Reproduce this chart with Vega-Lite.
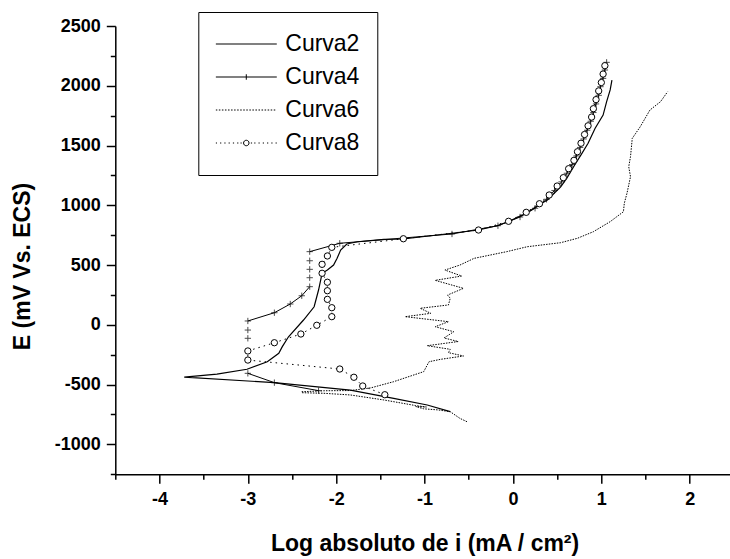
{
  "$schema": "https://vega.github.io/schema/vega-lite/v6.json",
  "width": 618.6,
  "height": 448.2,
  "autosize": {"type": "none"},
  "padding": {"left": 115.3, "top": 26, "right": 0, "bottom": 84.8},
  "background": "white",
  "config": {"view": {"stroke": null}, "font": "Liberation Sans"},
  "data": {"values": [
    {"s":"Curva2","o":1,"g":0,"x":-0.71,"y":-727},
    {"s":"Curva2","o":2,"g":0,"x":-0.97,"y":-671},
    {"s":"Curva2","o":3,"g":0,"x":-1.35,"y":-615},
    {"s":"Curva2","o":4,"g":0,"x":-1.84,"y":-546},
    {"s":"Curva2","o":5,"g":0,"x":-2.70,"y":-484},
    {"s":"Curva2","o":6,"g":0,"x":-3.72,"y":-437},
    {"s":"Curva2","o":7,"g":0,"x":-3.35,"y":-412},
    {"s":"Curva2","o":8,"g":0,"x":-3.01,"y":-372},
    {"s":"Curva2","o":9,"g":0,"x":-2.78,"y":-309},
    {"s":"Curva2","o":10,"g":0,"x":-2.65,"y":-238},
    {"s":"Curva2","o":11,"g":0,"x":-2.61,"y":-183},
    {"s":"Curva2","o":12,"g":0,"x":-2.54,"y":-100},
    {"s":"Curva2","o":13,"g":0,"x":-2.37,"y":40},
    {"s":"Curva2","o":14,"g":0,"x":-2.25,"y":151},
    {"s":"Curva2","o":15,"g":0,"x":-2.20,"y":291},
    {"s":"Curva2","o":16,"g":0,"x":-2.16,"y":431},
    {"s":"Curva2","o":17,"g":0,"x":-2.10,"y":458},
    {"s":"Curva2","o":18,"g":0,"x":-2.03,"y":500},
    {"s":"Curva2","o":19,"g":0,"x":-1.99,"y":556},
    {"s":"Curva2","o":20,"g":0,"x":-1.95,"y":626},
    {"s":"Curva2","o":21,"g":0,"x":-1.88,"y":676},
    {"s":"Curva2","o":22,"g":0,"x":-1.76,"y":695},
    {"s":"Curva2","o":23,"g":0,"x":-1.46,"y":715},
    {"s":"Curva2","o":24,"g":0,"x":-1.24,"y":718},
    {"s":"Curva2","o":25,"g":0,"x":-0.69,"y":766},
    {"s":"Curva2","o":26,"g":0,"x":-0.39,"y":793},
    {"s":"Curva2","o":27,"g":0,"x":-0.18,"y":829},
    {"s":"Curva2","o":28,"g":0,"x":-0.05,"y":863},
    {"s":"Curva2","o":29,"g":0,"x":0.16,"y":938},
    {"s":"Curva2","o":30,"g":0,"x":0.31,"y":1011},
    {"s":"Curva2","o":31,"g":0,"x":0.39,"y":1044},
    {"s":"Curva2","o":32,"g":0,"x":0.54,"y":1155},
    {"s":"Curva2","o":33,"g":0,"x":0.61,"y":1227},
    {"s":"Curva2","o":34,"g":0,"x":0.70,"y":1339},
    {"s":"Curva2","o":35,"g":0,"x":0.77,"y":1422},
    {"s":"Curva2","o":36,"g":0,"x":0.85,"y":1519},
    {"s":"Curva2","o":37,"g":0,"x":0.93,"y":1644},
    {"s":"Curva2","o":38,"g":0,"x":1.02,"y":1755},
    {"s":"Curva2","o":39,"g":0,"x":1.06,"y":1867},
    {"s":"Curva2","o":40,"g":0,"x":1.10,"y":1965},
    {"s":"Curva2","o":41,"g":0,"x":1.12,"y":2048},

    {"s":"Curva4","o":1,"g":1,"x":-2.20,"y":-551},
    {"s":"Curva4","o":2,"g":1,"x":-2.70,"y":-484},
    {"s":"Curva4","o":3,"g":1,"x":-3.00,"y":-406},
    {"s":"Curva4","o":4,"g":2,"x":-3.00,"y":-113},
    {"s":"Curva4","o":5,"g":3,"x":-3.00,"y":-44},
    {"s":"Curva4","o":6,"g":4,"x":-3.00,"y":32},
    {"s":"Curva4","o":7,"g":4,"x":-2.70,"y":101},
    {"s":"Curva4","o":8,"g":4,"x":-2.52,"y":174},
    {"s":"Curva4","o":9,"g":4,"x":-2.39,"y":243},
    {"s":"Curva4","o":10,"g":4,"x":-2.30,"y":319},
    {"s":"Curva4","o":11,"g":5,"x":-2.30,"y":394},
    {"s":"Curva4","o":12,"g":6,"x":-2.30,"y":464},
    {"s":"Curva4","o":13,"g":7,"x":-2.30,"y":536},
    {"s":"Curva4","o":14,"g":8,"x":-2.30,"y":612},
    {"s":"Curva4","o":15,"g":8,"x":-1.96,"y":682},
    {"s":"Curva4","o":16,"g":8,"x":-0.69,"y":760},
    {"s":"Curva4","o":17,"g":8,"x":-0.17,"y":829},
    {"s":"Curva4","o":18,"g":8,"x":0.08,"y":902},
    {"s":"Curva4","o":19,"g":8,"x":0.25,"y":975},
    {"s":"Curva4","o":20,"g":8,"x":0.38,"y":1050},
    {"s":"Curva4","o":21,"g":8,"x":0.47,"y":1124},
    {"s":"Curva4","o":22,"g":8,"x":0.55,"y":1196},
    {"s":"Curva4","o":23,"g":8,"x":0.61,"y":1268},
    {"s":"Curva4","o":24,"g":8,"x":0.67,"y":1341},
    {"s":"Curva4","o":25,"g":8,"x":0.72,"y":1413},
    {"s":"Curva4","o":26,"g":8,"x":0.76,"y":1484},
    {"s":"Curva4","o":27,"g":8,"x":0.80,"y":1555},
    {"s":"Curva4","o":28,"g":8,"x":0.84,"y":1628},
    {"s":"Curva4","o":29,"g":8,"x":0.88,"y":1703},
    {"s":"Curva4","o":30,"g":8,"x":0.91,"y":1776},
    {"s":"Curva4","o":31,"g":8,"x":0.94,"y":1848},
    {"s":"Curva4","o":32,"g":8,"x":0.97,"y":1920},
    {"s":"Curva4","o":33,"g":8,"x":0.99,"y":1992},
    {"s":"Curva4","o":34,"g":8,"x":1.02,"y":2062},
    {"s":"Curva4","o":35,"g":8,"x":1.04,"y":2132},
    {"s":"Curva4","o":36,"g":8,"x":1.06,"y":2196},

    {"s":"Curva6","o":1,"g":0,"x":-0.52,"y":-811},
    {"s":"Curva6","o":2,"g":0,"x":-0.60,"y":-783},
    {"s":"Curva6","o":3,"g":0,"x":-0.71,"y":-727},
    {"s":"Curva6","o":4,"g":0,"x":-0.85,"y":-712},
    {"s":"Curva6","o":5,"g":0,"x":-1.01,"y":-703},
    {"s":"Curva6","o":6,"g":0,"x":-1.10,"y":-684},
    {"s":"Curva6","o":7,"g":0,"x":-0.98,"y":-688},
    {"s":"Curva6","o":8,"g":0,"x":-1.10,"y":-676},
    {"s":"Curva6","o":9,"g":0,"x":-1.46,"y":-629},
    {"s":"Curva6","o":10,"g":0,"x":-1.84,"y":-587},
    {"s":"Curva6","o":11,"g":0,"x":-2.14,"y":-573},
    {"s":"Curva6","o":12,"g":0,"x":-2.39,"y":-568},
    {"s":"Curva6","o":13,"g":0,"x":-2.39,"y":-560},
    {"s":"Curva6","o":14,"g":0,"x":-2.14,"y":-552},
    {"s":"Curva6","o":15,"g":0,"x":-1.84,"y":-550},
    {"s":"Curva6","o":16,"g":0,"x":-1.61,"y":-528},
    {"s":"Curva6","o":17,"g":0,"x":-1.35,"y":-476},
    {"s":"Curva6","o":18,"g":0,"x":-1.01,"y":-392},
    {"s":"Curva6","o":19,"g":0,"x":-0.95,"y":-309},
    {"s":"Curva6","o":20,"g":0,"x":-0.82,"y":-289},
    {"s":"Curva6","o":21,"g":0,"x":-0.56,"y":-261},
    {"s":"Curva6","o":22,"g":0,"x":-0.73,"y":-233},
    {"s":"Curva6","o":23,"g":0,"x":-0.71,"y":-205},
    {"s":"Curva6","o":24,"g":0,"x":-0.97,"y":-175},
    {"s":"Curva6","o":25,"g":0,"x":-0.62,"y":-140},
    {"s":"Curva6","o":26,"g":0,"x":-0.78,"y":-110},
    {"s":"Curva6","o":27,"g":0,"x":-0.67,"y":-58},
    {"s":"Curva6","o":28,"g":0,"x":-0.88,"y":-16},
    {"s":"Curva6","o":29,"g":0,"x":-0.73,"y":26},
    {"s":"Curva6","o":30,"g":0,"x":-1.22,"y":68},
    {"s":"Curva6","o":31,"g":0,"x":-0.93,"y":96},
    {"s":"Curva6","o":32,"g":0,"x":-1.05,"y":138},
    {"s":"Curva6","o":33,"g":0,"x":-0.73,"y":166},
    {"s":"Curva6","o":34,"g":0,"x":-0.71,"y":222},
    {"s":"Curva6","o":35,"g":0,"x":-0.74,"y":249},
    {"s":"Curva6","o":36,"g":0,"x":-0.56,"y":305},
    {"s":"Curva6","o":37,"g":0,"x":-0.88,"y":372},
    {"s":"Curva6","o":38,"g":0,"x":-0.58,"y":408},
    {"s":"Curva6","o":39,"g":0,"x":-0.77,"y":458},
    {"s":"Curva6","o":40,"g":0,"x":-0.60,"y":500},
    {"s":"Curva6","o":41,"g":0,"x":-0.44,"y":556},
    {"s":"Curva6","o":42,"g":0,"x":-0.07,"y":612},
    {"s":"Curva6","o":43,"g":0,"x":0.16,"y":653},
    {"s":"Curva6","o":44,"g":0,"x":0.54,"y":687},
    {"s":"Curva6","o":45,"g":0,"x":0.73,"y":724},
    {"s":"Curva6","o":46,"g":0,"x":0.91,"y":779},
    {"s":"Curva6","o":47,"g":0,"x":1.10,"y":863},
    {"s":"Curva6","o":48,"g":0,"x":1.25,"y":946},
    {"s":"Curva6","o":49,"g":0,"x":1.26,"y":1017},
    {"s":"Curva6","o":50,"g":0,"x":1.29,"y":1100},
    {"s":"Curva6","o":51,"g":0,"x":1.33,"y":1239},
    {"s":"Curva6","o":52,"g":0,"x":1.31,"y":1323},
    {"s":"Curva6","o":53,"g":0,"x":1.33,"y":1406},
    {"s":"Curva6","o":54,"g":0,"x":1.35,"y":1560},
    {"s":"Curva6","o":55,"g":0,"x":1.44,"y":1657},
    {"s":"Curva6","o":56,"g":0,"x":1.55,"y":1797},
    {"s":"Curva6","o":57,"g":0,"x":1.67,"y":1867},
    {"s":"Curva6","o":58,"g":0,"x":1.75,"y":1950},

    {"s":"Curva8","o":1,"g":0,"x":-1.45,"y":-585},
    {"s":"Curva8","o":2,"g":0,"x":-1.70,"y":-512},
    {"s":"Curva8","o":3,"g":0,"x":-1.80,"y":-439},
    {"s":"Curva8","o":4,"g":0,"x":-1.96,"y":-370},
    {"s":"Curva8","o":5,"g":0,"x":-3.00,"y":-295},
    {"s":"Curva8","o":6,"g":0,"x":-3.00,"y":-219},
    {"s":"Curva8","o":7,"g":0,"x":-2.70,"y":-150},
    {"s":"Curva8","o":8,"g":0,"x":-2.40,"y":-77},
    {"s":"Curva8","o":9,"g":0,"x":-2.22,"y":-4},
    {"s":"Curva8","o":10,"g":0,"x":-2.05,"y":68},
    {"s":"Curva8","o":11,"g":0,"x":-2.05,"y":143},
    {"s":"Curva8","o":12,"g":0,"x":-2.10,"y":213},
    {"s":"Curva8","o":13,"g":0,"x":-2.10,"y":285},
    {"s":"Curva8","o":14,"g":0,"x":-2.10,"y":356},
    {"s":"Curva8","o":15,"g":0,"x":-2.16,"y":431},
    {"s":"Curva8","o":16,"g":0,"x":-2.16,"y":506},
    {"s":"Curva8","o":17,"g":0,"x":-2.10,"y":576},
    {"s":"Curva8","o":18,"g":0,"x":-2.05,"y":648},
    {"s":"Curva8","o":19,"g":0,"x":-1.24,"y":720},
    {"s":"Curva8","o":20,"g":0,"x":-0.39,"y":793},
    {"s":"Curva8","o":21,"g":0,"x":-0.05,"y":866},
    {"s":"Curva8","o":22,"g":0,"x":0.15,"y":941},
    {"s":"Curva8","o":23,"g":0,"x":0.30,"y":1013},
    {"s":"Curva8","o":24,"g":0,"x":0.41,"y":1086},
    {"s":"Curva8","o":25,"g":0,"x":0.50,"y":1161},
    {"s":"Curva8","o":26,"g":0,"x":0.57,"y":1231},
    {"s":"Curva8","o":27,"g":0,"x":0.63,"y":1306},
    {"s":"Curva8","o":28,"g":0,"x":0.69,"y":1376},
    {"s":"Curva8","o":29,"g":0,"x":0.73,"y":1448},
    {"s":"Curva8","o":30,"g":0,"x":0.77,"y":1519},
    {"s":"Curva8","o":31,"g":0,"x":0.81,"y":1592},
    {"s":"Curva8","o":32,"g":0,"x":0.85,"y":1665},
    {"s":"Curva8","o":33,"g":0,"x":0.89,"y":1738},
    {"s":"Curva8","o":34,"g":0,"x":0.91,"y":1808},
    {"s":"Curva8","o":35,"g":0,"x":0.94,"y":1884},
    {"s":"Curva8","o":36,"g":0,"x":0.97,"y":1957},
    {"s":"Curva8","o":37,"g":0,"x":1.00,"y":2027},
    {"s":"Curva8","o":38,"g":0,"x":1.02,"y":2098},
    {"s":"Curva8","o":39,"g":0,"x":1.04,"y":2168}
  ]},
  "resolve": {"axis": {"x": "independent", "y": "independent"}},
  "layer": [
    {
      "mark": {"type": "point", "opacity": 0},
      "encoding": {
        "x": {
          "field": "x", "type": "quantitative",
          "scale": {"domain": [-4.5, 2.5], "nice": false, "zero": false},
          "axis": {
            "orient": "bottom", "title": null, "labels": false, "domain": false, "grid": false,
            "values": [-4.5,-3.5,-2.5,-1.5,-0.5,0.5,1.5,2.5],
            "tickSize": 5, "tickColor": "black", "tickWidth": 1.5
          }
        },
        "y": {
          "field": "y", "type": "quantitative",
          "scale": {"domain": [-1250, 2500], "nice": false, "zero": false},
          "axis": {
            "orient": "left", "title": null, "labels": false, "domain": false, "grid": false,
            "values": [-1250,-750,-250,250,750,1250,1750,2250],
            "tickSize": 5, "tickColor": "black", "tickWidth": 1.5
          }
        }
      }
    },
    {
      "encoding": {
        "x": {
          "field": "x", "type": "quantitative",
          "scale": {"domain": [-4.5, 2.5], "nice": false, "zero": false},
          "axis": {
            "orient": "bottom",
            "title": "Log absoluto de i (mA / cm²)",
            "values": [-4,-3,-2,-1,0,1,2],
            "labelExpr": "'' + datum.value",
            "tickSize": 9,
            "grid": false,
            "domainColor": "black", "domainWidth": 1.5,
            "tickColor": "black", "tickWidth": 1.5,
            "labelFont": "Liberation Sans", "labelFontSize": 18, "labelFontWeight": "bold", "labelColor": "black",
            "labelPadding": 7, "labelFlush": false, "labelOverlap": false,
            "titleFont": "Liberation Sans", "titleFontSize": 23, "titleFontWeight": "bold", "titleColor": "black",
            "titleY": 69, "titleBaseline": "middle"
          }
        },
        "y": {
          "field": "y", "type": "quantitative",
          "scale": {"domain": [-1250, 2500], "nice": false, "zero": false},
          "axis": {
            "orient": "left",
            "title": "E (mV Vs. ECS)",
            "values": [-1000,-500,0,500,1000,1500,2000,2500],
            "labelExpr": "'' + datum.value",
            "tickSize": 9,
            "grid": false,
            "domainColor": "black", "domainWidth": 1.5,
            "tickColor": "black", "tickWidth": 1.5,
            "labelFont": "Liberation Sans", "labelFontSize": 18, "labelFontWeight": "bold", "labelColor": "black",
            "labelPadding": 6, "labelFlush": false, "labelOverlap": false,
            "titleFont": "Liberation Sans", "titleFontSize": 23, "titleFontWeight": "bold", "titleColor": "black",
            "titleX": -93, "titleY": 240, "titleAngle": -90, "titleBaseline": "middle", "titleAlign": "center"
          }
        }
      },
      "layer": [
        {
          "transform": [{"filter": "datum.s === 'Curva6'"}],
          "mark": {"type": "line", "color": "black", "strokeWidth": 1, "strokeDash": [1.5, 1.2]},
          "encoding": {"order": {"field": "o", "type": "quantitative"}}
        },
        {
          "transform": [{"filter": "datum.s === 'Curva2'"}],
          "mark": {"type": "line", "color": "black", "strokeWidth": 1.2},
          "encoding": {"order": {"field": "o", "type": "quantitative"}}
        },
        {
          "transform": [{"filter": "datum.s === 'Curva4'"}],
          "mark": {"type": "line", "color": "black", "strokeWidth": 1},
          "encoding": {"order": {"field": "o", "type": "quantitative"}, "detail": {"field": "g", "type": "nominal"}}
        },
        {
          "transform": [{"filter": "datum.s === 'Curva8'"}],
          "mark": {"type": "line", "color": "black", "strokeWidth": 1, "strokeDash": [1.5, 4]},
          "encoding": {"order": {"field": "o", "type": "quantitative"}}
        },
        {
          "transform": [{"filter": "datum.s === 'Curva4'"}],
          "mark": {"type": "point", "shape": "M-1,0H1M0,-1V1", "size": 40, "filled": false, "color": "black", "strokeWidth": 1}
        },
        {
          "transform": [{"filter": "datum.s === 'Curva8'"}],
          "mark": {"type": "point", "shape": "circle", "size": 40, "filled": false, "fill": "white", "fillOpacity": 1, "color": "black", "stroke": "black", "strokeWidth": 1}
        },
        {
          "mark": {"type": "point", "filled": false, "color": "black", "opacity": 0},
          "encoding": {
            "shape": {
              "field": "s", "type": "nominal",
              "scale": {
                "domain": ["Curva2", "Curva4", "Curva6", "Curva8"],
                "range": [
                  "M-1,0H1",
                  "M-1,0H1M0,-0.09V0.09",
                  "M-1,0H-0.95M-0.9,0H-0.85M-0.8,0H-0.75M-0.7,0H-0.65M-0.6,0H-0.55M-0.5,0H-0.45M-0.4,0H-0.35M-0.3,0H-0.25M-0.2,0H-0.15M-0.1,0H-0.05M0,0H0.05M0.1,0H0.15M0.2,0H0.25M0.3,0H0.35M0.4,0H0.45M0.5,0H0.55M0.6,0H0.65M0.7,0H0.75M0.8,0H0.85M0.9,0H0.95",
                  "M-1,0H-0.96M-0.86,0H-0.82M-0.72,0H-0.68M-0.58,0H-0.54M-0.44,0H-0.4M-0.3,0H-0.26M-0.19,0H-0.15M0.15,0H0.19M0.26,0H0.3M0.4,0H0.44M0.54,0H0.58M0.68,0H0.72M0.82,0H0.86M0.96,0H1M0.09,0A0.09,0.09,0,1,1,-0.09,0A0.09,0.09,0,1,1,0.09,0Z"
                ]
              },
              "legend": {
                "title": null,
                "orient": "none", "legendX": 83, "legendY": -14,
                "padding": 17, "strokeColor": "black", "fillColor": "white", "cornerRadius": 0,
                "symbolSize": 3721, "symbolStrokeWidth": 1, "symbolStrokeColor": "black", "symbolOpacity": 1,
                "labelFont": "Liberation Sans", "labelFontSize": 23, "labelColor": "black", "labelOffset": 8,
                "clipHeight": 30, "rowPadding": 3
              }
            }
          }
        }
      ]
    }
  ]
}
